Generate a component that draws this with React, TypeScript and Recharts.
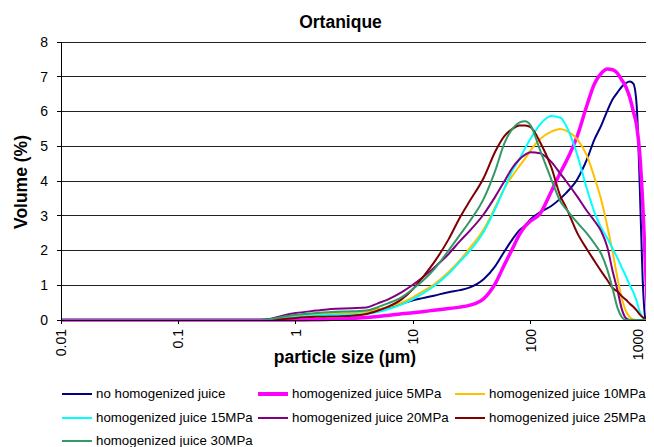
import React from "react";
import { LineChart, Line, XAxis, YAxis, CartesianGrid, Label } from "recharts";

// particle size classes (µm) and volume (%) per sample
const sizes = [
  0.01, 0.5, 0.6, 0.8, 1, 1.5, 2, 3, 4, 5, 6, 8, 10, 12, 15, 20, 25, 30, 40, 50,
  60, 70, 80, 90, 100, 120, 150, 180, 200, 250, 300, 350, 400, 450, 500, 550,
  600, 650, 700, 750, 800, 850, 900, 950, 1000,
];

const noHomog = [
  0, 0, 0.01, 0.08, 0.13, 0.18, 0.2, 0.22, 0.25, 0.3, 0.36, 0.47, 0.57, 0.63,
  0.7, 0.8, 0.86, 0.93, 1.18, 1.55, 1.98, 2.32, 2.58, 2.72, 2.9, 3.1, 3.28, 3.5,
  3.65, 4.05, 4.6, 5.2, 5.6, 6.02, 6.35, 6.55, 6.72, 6.82, 6.86, 6.8, 6.2, 3.9,
  1.2, 0.05, 0,
];
const mpa5 = [
  0, 0, 0, 0, 0, 0.01, 0.02, 0.04, 0.07, 0.1, 0.13, 0.18, 0.21, 0.24, 0.28,
  0.33, 0.37, 0.42, 0.62, 1.05, 1.6, 2.05, 2.45, 2.7, 2.85, 3.05, 3.7, 4.25,
  4.55, 5.3, 6.15, 6.8, 7.1, 7.22, 7.2, 7.1, 6.9, 6.7, 6.4, 6.0, 5.6, 4.8, 3.4,
  1.6, 0,
];
const mpa10 = [
  0, 0, 0.01, 0.07, 0.11, 0.16, 0.19, 0.21, 0.24, 0.3, 0.37, 0.5, 0.66, 0.82,
  1.02, 1.38, 1.72, 2.05, 2.62, 3.25, 3.8, 4.15, 4.42, 4.65, 4.88, 5.2, 5.42,
  5.5, 5.45, 5.2, 4.75, 4.1, 3.45, 2.7, 1.95, 1.2, 0.6, 0.25, 0.08, 0.02, 0, 0,
  0, 0, 0,
];
const mpa15 = [
  0, 0, 0.01, 0.05, 0.09, 0.13, 0.15, 0.16, 0.18, 0.23, 0.3, 0.45, 0.6, 0.76,
  0.97, 1.33, 1.68, 1.97, 2.55, 3.2, 3.8, 4.3, 4.62, 4.95, 5.22, 5.62, 5.87,
  5.82, 5.6, 4.75, 3.8, 3.1, 2.65, 2.35, 2.05, 1.78, 1.5, 1.25, 1.0, 0.8, 0.55,
  0.24, 0.08, 0, 0,
];
const mpa20 = [
  0, 0, 0.03, 0.14, 0.2, 0.27, 0.32, 0.34, 0.36, 0.48, 0.58, 0.8, 1.02, 1.22,
  1.5, 1.9, 2.27, 2.55, 3.05, 3.55, 4.0, 4.38, 4.62, 4.76, 4.83, 4.8, 4.55, 4.2,
  4.0, 3.55, 3.15, 2.85, 2.55, 2.1, 1.4, 0.85, 0.3, 0.05, 0, 0, 0, 0, 0, 0, 0,
];
const mpa25 = [
  0, 0, 0, 0.03, 0.06, 0.09, 0.1, 0.12, 0.17, 0.27, 0.37, 0.6, 0.9, 1.22, 1.65,
  2.32, 2.95, 3.4, 4.1, 4.85, 5.3, 5.5, 5.6, 5.6, 5.55, 5.13, 4.4, 3.55, 3.25,
  2.5, 2.05, 1.7, 1.4, 1.15, 0.92, 0.82, 0.68, 0.58, 0.47, 0.38, 0.28, 0.16,
  0.08, 0.03, 0,
];
const mpa30 = [
  0, 0, 0.02, 0.1, 0.15, 0.2, 0.23, 0.25, 0.27, 0.37, 0.47, 0.66, 0.9, 1.12,
  1.45, 2.0, 2.45, 2.82, 3.5, 4.3, 5.1, 5.5, 5.68, 5.72, 5.6, 4.9, 4.05, 3.4,
  3.2, 2.8, 2.5, 2.2, 1.9, 1.45, 0.9, 0.35, 0.08, 0, 0, 0, 0, 0, 0, 0, 0,
];

const xTicks = [0.01, 0.1, 1, 10, 100, 1000];
const yTicks = [0, 1, 2, 3, 4, 5, 6, 7, 8];

const series = [
  { key: "noHomog", name: "no homogenized juice", color: "#000080", width: 2, values: noHomog },
  { key: "mpa5", name: "homogenized juice 5MPa", color: "#FF00FF", width: 3.5, values: mpa5 },
  { key: "mpa10", name: "homogenized juice 10MPa", color: "#FFC000", width: 2, values: mpa10 },
  { key: "mpa15", name: "homogenized juice 15MPa", color: "#00FFFF", width: 2, values: mpa15 },
  { key: "mpa20", name: "homogenized juice 20MPa", color: "#800080", width: 2, values: mpa20 },
  { key: "mpa25", name: "homogenized juice 25MPa", color: "#800000", width: 2, values: mpa25 },
  { key: "mpa30", name: "homogenized juice 30MPa", color: "#339966", width: 2, values: mpa30 },
];

const data = sizes.map((size, i) => {
  const row: Record<string, number> = { size };
  series.forEach((s) => {
    row[s.key] = s.values[i];
  });
  return row;
});

const FONT = '"Liberation Sans", Arial, sans-serif';

function XTick(props: any) {
  const { x, y, payload } = props;
  return (
    <g transform={`translate(${x},${y})`}>
      <text
        transform="rotate(-90)"
        textAnchor="end"
        dy="0.35em"
        fontSize={14}
        fill="#000"
        fontFamily={FONT}
      >
        {payload.value}
      </text>
    </g>
  );
}

// horizontal grid lines, kept crisp like the original
function GridLine(props: any) {
  const { x1, x2, y1, y2 } = props;
  return (
    <line x1={x1} x2={x2} y1={y1} y2={y2} stroke="#222" strokeWidth={1} shapeRendering="crispEdges" />
  );
}

const legendCols = [54, 250, 447];
const legendRows = [386, 410, 433];

export default function App() {
  return (
    <div style={{ position: "relative", width: 646, height: 439, fontFamily: FONT }}>
      <div
        style={{
          position: "absolute",
          left: 332.5,
          top: 4,
          transform: "translateX(-50%)",
          fontSize: 17.5,
          lineHeight: "20px",
          fontWeight: "bold",
          whiteSpace: "nowrap",
        }}
      >
        Ortanique
      </div>

      <LineChart
        width={646}
        height={360}
        data={data}
        margin={{ top: 34, right: 6, bottom: 0, left: 0 }}
        style={{ position: "absolute", left: 0, top: 0 }}
      >
        <CartesianGrid vertical={false} horizontal={(p: any) => <GridLine key={p.key} {...p} />} />
        <XAxis
          dataKey="size"
          type="number"
          scale="log"
          domain={[0.01, 1000]}
          ticks={xTicks}
          allowDataOverflow
          height={48}
          tickSize={4}
          tickMargin={5}
          stroke="#000"
          axisLine={{ stroke: "#000", shapeRendering: "crispEdges" }}
          tickLine={{ stroke: "#000", shapeRendering: "crispEdges" }}
          tick={(p: any) => <XTick {...p} />}
        >
          <Label
            content={() => (
              <text
                x={337}
                y={355}
                textAnchor="middle"
                fontSize={17.5}
                fontWeight="bold"
                fill="#000"
                fontFamily={FONT}
              >
                particle size (µm)
              </text>
            )}
          />
        </XAxis>
        <YAxis
          domain={[0, 8]}
          ticks={yTicks}
          width={53}
          tickSize={4}
          tickMargin={9}
          stroke="#000"
          axisLine={{ stroke: "#000", shapeRendering: "crispEdges" }}
          tickLine={{ stroke: "#000", shapeRendering: "crispEdges" }}
          tick={{ fontSize: 14, fill: "#000", fontFamily: FONT }}
        >
          <Label
            content={() => (
              <text
                x={12.7}
                y={174}
                transform="rotate(-90 12.7 174)"
                textAnchor="middle"
                dy="0.35em"
                fontSize={17.5}
                fontWeight="bold"
                fill="#000"
                fontFamily={FONT}
              >
                Volume (%)
              </text>
            )}
          />
        </YAxis>
        {series.map((s) => (
          <Line
            key={s.key}
            dataKey={s.key}
            name={s.name}
            type="monotone"
            stroke={s.color}
            strokeWidth={s.width}
            dot={false}
            isAnimationActive={false}
          />
        ))}
      </LineChart>

      {series.map((s, i) => (
        <div
          key={`legend-${s.key}`}
          style={{
            position: "absolute",
            left: legendCols[i % 3],
            top: legendRows[Math.floor(i / 3)] - 8,
            height: 16,
            display: "flex",
            alignItems: "center",
            whiteSpace: "nowrap",
          }}
        >
          <span
            style={{
              display: "inline-block",
              width: 30,
              height: s.width >= 3 ? 4 : 2.5,
              background: s.color,
              marginRight: 4,
            }}
          />
          <span style={{ fontSize: 13.3, lineHeight: "16px", color: "#000" }}>{s.name}</span>
        </div>
      ))}
    </div>
  );
}
